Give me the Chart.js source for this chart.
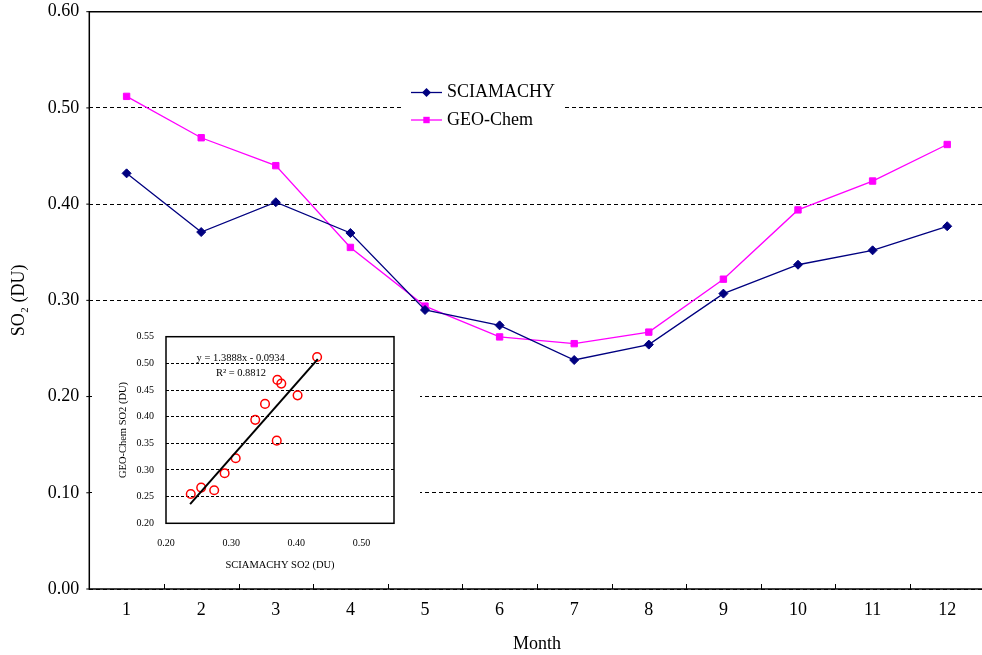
<!DOCTYPE html>
<html>
<head>
<meta charset="utf-8">
<script src="https://cdn.jsdelivr.net/npm/chart.js@4"></script>
<style>
html, body { margin: 0; padding: 0; background: #fff; overflow: hidden; }
#wrap { position: relative; width: 982px; height: 655px; overflow: hidden; }
#mainChart { position: absolute; left: 0; top: 0; }
#insetChart { position: absolute; left: 92px; top: 318px; background: #fff; }
</style>
</head>
<body>
<div id="wrap">
<canvas id="mainChart" width="990" height="655"></canvas>
<canvas id="insetChart" width="328" height="262"></canvas>
</div>
<script>
const months = ['1', '2', '3', '4', '5', '6', '7', '8', '9', '10', '11', '12'];
const sciamachy = [0.432, 0.371, 0.402, 0.370, 0.290, 0.274, 0.238, 0.254, 0.307, 0.337, 0.352, 0.377];
const geoChem = [0.512, 0.469, 0.440, 0.355, 0.294, 0.262, 0.255, 0.267, 0.322, 0.394, 0.424, 0.462];
const yTicks = [0, 0.1, 0.2, 0.3, 0.4, 0.5, 0.6];

const insetXTicks = [0.2, 0.3, 0.4, 0.5];
const insetYTicks = [0.2, 0.25, 0.3, 0.35, 0.4, 0.45, 0.5, 0.55];
const trendX = [0.237, 0.433];
const trendY = [0.236, 0.508];
const fitLabel = 'y = 1.3888x - 0.0934';
const r2Label = 'R² = 0.8812';

Chart.defaults.font.family = '"Liberation Serif", "Times New Roman", serif';
Chart.defaults.color = '#000';

// drop the label overflow padding so the plot area sits where we put it
function noPad(s) {
    s.paddingTop = 0;
    s.paddingBottom = 0;
    s.paddingLeft = 0;
    s.paddingRight = 0;
}

// axis frame + small tick marks
const framePlugin = {
    id: 'frame',
    beforeDatasetsDraw(chart) {
        const {ctx, chartArea: a, scales} = chart;
        ctx.save();
        ctx.strokeStyle = '#000';
        ctx.lineWidth = 1.5;
        ctx.beginPath();
        ctx.moveTo(a.right, a.top);
        ctx.lineTo(a.left, a.top);
        ctx.lineTo(a.left, a.bottom);
        ctx.lineTo(a.right, a.bottom);
        ctx.stroke();
        ctx.lineWidth = 1;
        ctx.beginPath();
        for (let i = 0; i < months.length - 1; i++) {
            const x = Math.round((scales.x.getPixelForValue(i) + scales.x.getPixelForValue(i + 1)) / 2) + 0.5;
            ctx.moveTo(x, a.bottom);
            ctx.lineTo(x, a.bottom - 5);
        }
        yTicks.forEach(v => {
            const y = scales.y.getPixelForValue(v);
            ctx.moveTo(a.left - 3, y);
            ctx.lineTo(a.left, y);
        });
        ctx.stroke();
        ctx.restore();
    }
};

const legendPlugin = {
    id: 'boxLegend',
    afterDraw(chart) {
        const ctx = chart.ctx;
        ctx.save();
        ctx.fillStyle = '#fff';
        ctx.fillRect(403, 80, 159, 54);
        chart.data.datasets.forEach((ds, i) => {
            const y = 92.5 + i * 27.5;
            ctx.strokeStyle = ds.borderColor;
            ctx.fillStyle = ds.backgroundColor;
            ctx.lineWidth = 1.3;
            ctx.beginPath();
            ctx.moveTo(411, y);
            ctx.lineTo(442, y);
            ctx.stroke();
            ctx.beginPath();
            if (ds.pointStyle === 'rectRot') {
                ctx.moveTo(426.5, y - 4.5);
                ctx.lineTo(431, y);
                ctx.lineTo(426.5, y + 4.5);
                ctx.lineTo(422, y);
                ctx.closePath();
            } else {
                ctx.rect(423.3, y - 3.2, 6.4, 6.4);
            }
            ctx.fill();
            ctx.fillStyle = '#000';
            ctx.font = '18px "Liberation Serif", serif';
            ctx.textBaseline = 'middle';
            ctx.fillText(ds.label, 447, y);
        });
        ctx.restore();
    }
};

new Chart(document.getElementById('mainChart'), {
    type: 'line',
    data: {
        labels: months,
        datasets: [{
            label: 'SCIAMACHY',
            data: sciamachy,
            borderColor: '#000080',
            backgroundColor: '#000080',
            borderWidth: 1.3,
            pointStyle: 'rectRot',
            pointRadius: 4.5,
            pointBorderWidth: 1
        },
        {
            label: 'GEO-Chem',
            data: geoChem,
            borderColor: '#FF00FF',
            backgroundColor: '#FF00FF',
            borderWidth: 1.3,
            pointStyle: 'rect',
            pointRadius: 4.5,
            pointBorderWidth: 1
        }]
    },
    options: {
        responsive: false,
        animation: false,
        // canvas is a bit wider than the page; the plot runs past the right edge like the original
        layout: { padding: { top: 11.7, right: 0.7, left: 0, bottom: 0 } },
        plugins: { legend: { display: false }, tooltip: { enabled: false } },
        scales: {
            x: {
                offset: true,
                grid: { display: false },
                border: { display: false },
                ticks: { padding: 2, font: { size: 18 }, color: '#000' },
                title: { display: true, text: 'Month', font: { size: 18 }, color: '#000', padding: { top: 0, bottom: 0 } },
                afterFit(s) { s.height = 66; noPad(s); }
            },
            y: {
                min: 0,
                max: 0.6,
                afterBuildTicks(s) { s.ticks = yTicks.map(v => ({ value: v })); },
                ticks: { padding: 10, font: { size: 18 }, color: '#000', callback: v => v.toFixed(2) },
                grid: { color: '#000', lineWidth: 1, drawTicks: false },
                border: { display: false, dash: [4, 3] },
                title: { display: true, text: 'SO₂ (DU)', font: { size: 18 }, color: '#000', padding: { top: 8.5, bottom: 0 } },
                afterFit(s) { s.width = 89.3; noPad(s); }
            }
        }
    },
    plugins: [framePlugin, legendPlugin]
});

// inset scatter with regression line
const insetPlugin = {
    id: 'insetFrame',
    afterDatasetsDraw(chart) {
        const {ctx, chartArea: a, scales} = chart;
        ctx.save();
        ctx.strokeStyle = '#000';
        ctx.lineWidth = 1.5;
        ctx.strokeRect(a.left, a.top, a.right - a.left, a.bottom - a.top);
        ctx.fillStyle = '#000';
        ctx.font = '10.5px "Liberation Serif", serif';
        ctx.textBaseline = 'middle';
        ctx.fillText(fitLabel, scales.x.getPixelForValue(0.247), scales.y.getPixelForValue(0.5095));
        ctx.fillText(r2Label, scales.x.getPixelForValue(0.2766), scales.y.getPixelForValue(0.4819));
        ctx.restore();
    }
};

new Chart(document.getElementById('insetChart'), {
    type: 'scatter',
    data: {
        datasets: [{
            data: trendX.map((x, i) => ({ x: x, y: trendY[i] })),
            showLine: true,
            borderColor: '#000',
            borderWidth: 2,
            pointRadius: 0
        },
        {
            data: sciamachy.map((x, i) => ({ x: x, y: geoChem[i] })),
            pointStyle: 'circle',
            pointRadius: 4.3,
            borderColor: '#FF0000',
            backgroundColor: 'rgba(0,0,0,0)',
            pointBorderWidth: 1.5
        }]
    },
    options: {
        responsive: false,
        animation: false,
        layout: { padding: { top: 18.7, right: 26, left: 0, bottom: 0 } },
        plugins: { legend: { display: false }, tooltip: { enabled: false } },
        scales: {
            x: {
                type: 'linear',
                min: 0.2,
                max: 0.55,
                afterBuildTicks(s) { s.ticks = insetXTicks.map(v => ({ value: v })); },
                ticks: { padding: 6, font: { size: 10 }, color: '#000', callback: v => v.toFixed(2) },
                grid: { display: false },
                border: { display: false },
                title: { display: true, text: 'SCIAMACHY SO2 (DU)', font: { size: 10.5 }, color: '#000', padding: { top: 0, bottom: 8 } },
                afterFit(s) { s.height = 56.7; noPad(s); }
            },
            y: {
                min: 0.2,
                max: 0.55,
                afterBuildTicks(s) { s.ticks = insetYTicks.map(v => ({ value: v })); },
                ticks: { padding: 12, font: { size: 10 }, color: '#000', callback: v => v.toFixed(2) },
                grid: { color: '#000', lineWidth: 1, drawTicks: false },
                border: { display: false, dash: [3, 2] },
                title: { display: true, text: 'GEO-Chem SO2 (DU)', font: { size: 10.5 }, color: '#000', padding: { top: 24.7, bottom: 0 } },
                afterFit(s) { s.width = 74; noPad(s); }
            }
        }
    },
    plugins: [insetPlugin]
});
</script>
</body>
</html>
